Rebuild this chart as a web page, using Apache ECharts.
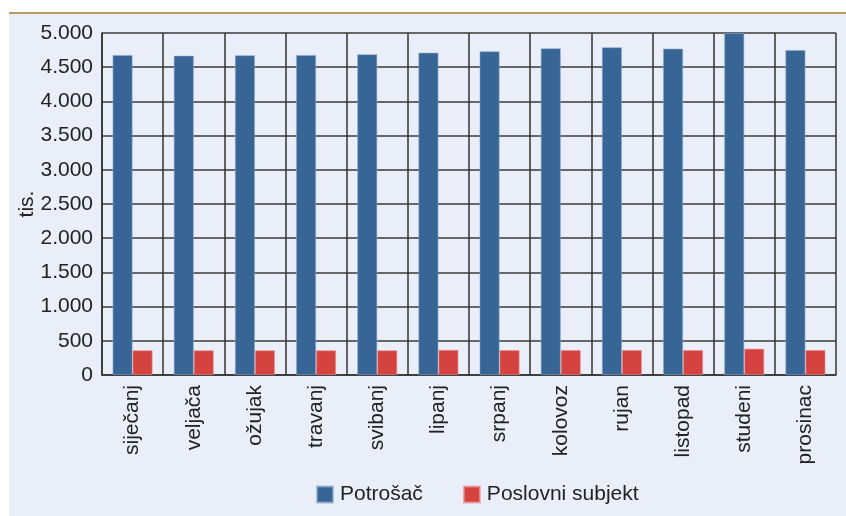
<!DOCTYPE html>
<html>
<head>
<meta charset="utf-8">
<script src="https://cdn.jsdelivr.net/npm/echarts@6/dist/echarts.min.js"></script>
<style>
html,body{margin:0;padding:0;background:#ffffff;}
#wrap{position:absolute;left:0;top:0;width:846px;height:516px;background:#ffffff;}
#panel{position:absolute;left:9px;top:12px;width:837px;height:504px;background:#e9eef8;border-top:2px solid #b89a62;box-sizing:border-box;}
#chart{position:absolute;left:0;top:0;width:846px;height:516px;}
</style>
</head>
<body>
<div id="wrap"><div id="panel"></div><div id="chart"></div></div>
<script>
const categories = ['siječanj','veljača','ožujak','travanj','svibanj','lipanj','srpanj','kolovoz','rujan','listopad','studeni','prosinac'];
const potrosac = [4678, 4668, 4674, 4678, 4689, 4712, 4732, 4776, 4791, 4771, 5000, 4751];
const poslovni = [361, 361, 361, 361, 361, 368, 365, 365, 365, 365, 385, 365];
const seriesNames = ['Potrošač', 'Poslovni subjekt'];
const yTicks = [0, 500, 1000, 1500, 2000, 2500, 3000, 3500, 4000, 4500, 5000];
const yAxisName = 'tis.';

const FONT = 'Liberation Sans';
const FS = 21;
const chart = echarts.init(document.getElementById('chart'), null, {renderer: 'canvas'});
chart.setOption({
  backgroundColor: 'transparent',
  animation: false,
  textStyle: {fontFamily: FONT},
  grid: {left: 102, right: 10, top: 33, bottom: 141, containLabel: false},
  graphic: [{
    type: 'text', x: 27, y: 204, rotation: Math.PI / 2,
    style: {text: yAxisName, fontFamily: FONT, fontSize: FS, fill: '#222', align: 'center', verticalAlign: 'middle'}
  }],
  legend: {
    data: seriesNames,
    left: 311, top: 479,
    itemWidth: 16, itemHeight: 16, itemGap: 40,
    icon: 'rect',
    textStyle: {fontFamily: FONT, fontSize: FS, color: '#222', padding: [0,0,0,2]}
  },
  xAxis: {
    type: 'category',
    data: categories,
    boundaryGap: true,
    axisLine: {show: true, lineStyle: {color: '#333', width: 1.5}},
    axisTick: {show: false},
    splitLine: {show: true, lineStyle: {color: '#333', width: 1.5}},
    axisLabel: {rotate: 90, margin: 10, fontSize: FS, color: '#222', fontFamily: FONT, interval: 0}
  },
  yAxis: {
    type: 'value',
    min: 0, max: 5000, interval: 500,
    axisLine: {show: true, lineStyle: {color: '#333', width: 1.5}},
    axisTick: {show: false},
    splitLine: {show: true, lineStyle: {color: '#3a3a3a', width: 1.5}},
    axisLabel: {
      margin: 9, fontSize: FS, color: '#222', fontFamily: FONT,
      formatter: v => yTicks.includes(v) ? (v >= 1000 ? Math.floor(v/1000) + '.' + String(v%1000).padStart(3,'0') : String(v)) : ''
    }
  },
  series: [
    {name: seriesNames[0], type: 'bar', data: potrosac, barWidth: 20, barGap: '0%',
     itemStyle: {color: '#366596', borderColor: 'rgba(140,170,205,0.7)', borderWidth: 0.8}},
    {name: seriesNames[1], type: 'bar', data: poslovni, barWidth: 20, barGap: '0%',
     itemStyle: {color: '#d4433f', borderColor: 'rgba(235,150,150,0.7)', borderWidth: 0.8}}
  ]
});
</script>
</body>
</html>
